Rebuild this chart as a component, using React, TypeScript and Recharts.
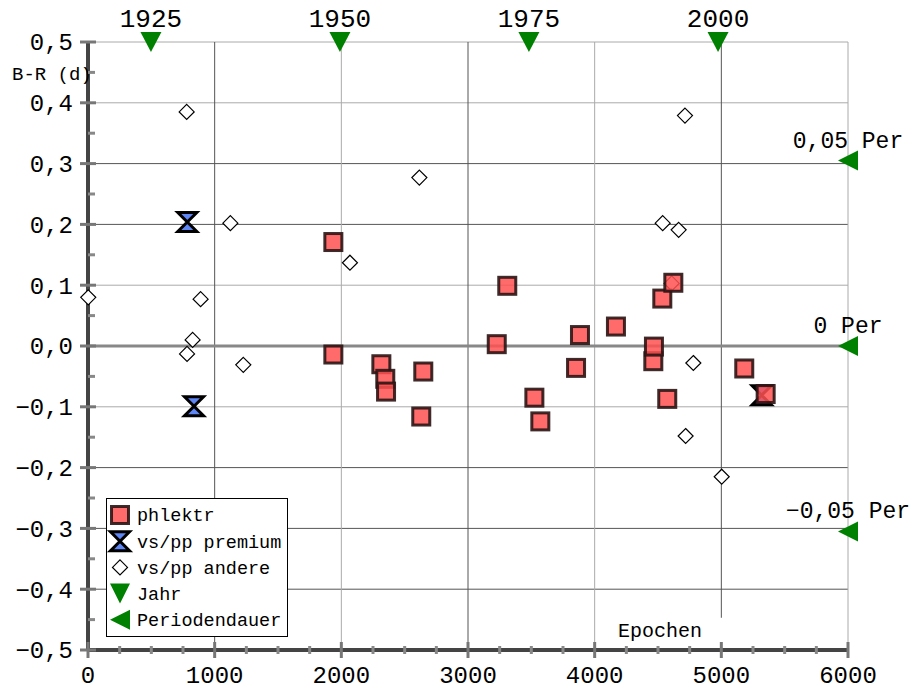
import React from 'react';
import { ScatterChart, Scatter, XAxis, YAxis, ReferenceLine, Legend, Label } from 'recharts';

const FONT = '"Liberation Mono", "Courier New", monospace';

// phlektr observations (epoch, B-R in days)
const phlektrEpoch = [1937, 1937, 2316, 2347, 2353, 2647, 2631, 3227, 3310, 3524, 3571, 3853, 3884, 4168, 4463, 4468, 4534, 4621, 4573, 5181, 5350];
const phlektrBR = [0.171, -0.014, -0.030, -0.054, -0.075, -0.042, -0.116, 0.003, 0.099, -0.085, -0.124, -0.036, 0.018, 0.032, -0.025, -0.001, 0.078, 0.104, -0.087, -0.037, -0.079];

// vs/pp premium
const premiumEpoch = [784, 837, 5319];
const premiumBR = [0.204, -0.099, -0.081];

// vs/pp andere
const andereEpoch = [2, 779, 826, 782, 889, 1124, 1226, 2068, 2616, 4537, 4608, 4663, 4713, 4718, 4779, 5003];
const andereBR = [0.080, 0.385, 0.010, -0.013, 0.077, 0.202, -0.031, 0.137, 0.277, 0.202, 0.103, 0.191, 0.379, -0.148, -0.028, -0.215];

// Jahr markers along the top
const yearEpoch = [497, 1989, 3481, 4974];
const yearLabels = ['1925', '1950', '1975', '2000'];

// Periodendauer markers along the right
const periodBR = [0.305, 0, -0.305];
const periodLabels = ['0,05 Per', '0 Per', '\u22120,05 Per'];

const xMajorTicks = [0, 1000, 2000, 3000, 4000, 5000, 6000];
const yMajorTicks = [-0.5, -0.4, -0.3, -0.2, -0.1, 0, 0.1, 0.2, 0.3, 0.4, 0.5];

const darkX = [1000, 3000, 5000];
const lightX = [2000, 4000, 6000];
const darkY = [0.3, 0.2, -0.2, -0.3, -0.4];
const lightY = [0.5, 0.4, 0.1, -0.1];

const xTicks = xMajorTicks.flatMap((t, i) => (i === 0 ? [t] : [t - 750, t - 500, t - 250, t]));
const yTicks = yMajorTicks.flatMap((t, i) => (i === 0 ? [t] : [+(t - 0.05).toFixed(2), t]));

const zip = (xs: number[], ys: number[]) => xs.map((x, i) => ({ x, y: ys[i] }));
const phlektrData = zip(phlektrEpoch, phlektrBR);
const premiumData = zip(premiumEpoch, premiumBR);
const andereData = zip(andereEpoch, andereBR);
const yearData = yearEpoch.map((x, i) => ({ x, y: 0.5, label: yearLabels[i] }));
const periodData = periodBR.map((y, i) => ({ x: 6000, y, label: periodLabels[i] }));

const fmt = (v: number) => {
  const s = Math.abs(v).toFixed(1).replace('.', ',');
  return v < -1e-9 ? '\u2212' + s : s;
};

const isMajor = (v: number, step: number) => Math.abs(v / step - Math.round(v / step)) < 1e-6;

const SquareShape = (p: any) => (
  <rect x={p.cx - 8.5} y={p.cy - 8.5} width={17} height={17} fill="#ff5050" fillOpacity={0.85}
    stroke="#2b1414" strokeOpacity={0.9} strokeWidth={3} />
);

const HourglassShape = (p: any) => (
  <path d={`M${p.cx - 9.5},${p.cy - 9.5}L${p.cx + 9.5},${p.cy - 9.5}L${p.cx - 9.5},${p.cy + 9.5}L${p.cx + 9.5},${p.cy + 9.5}Z`}
    fill="#5f86f5" stroke="#000" strokeWidth={3} strokeLinejoin="miter" />
);

const DiamondShape = (p: any) => (
  <path d={`M${p.cx},${p.cy - 7.5}L${p.cx + 7.5},${p.cy}L${p.cx},${p.cy + 7.5}L${p.cx - 7.5},${p.cy}Z`}
    fill="#fff" stroke="#000" strokeWidth={1.2} />
);

const YearShape = (p: any) => (
  <g>
    <path d={`M${p.cx - 10.5},${p.cy - 10}L${p.cx + 10.5},${p.cy - 10}L${p.cx},${p.cy + 10}Z`} fill="#008000" />
    <text x={p.cx} y={p.cy - 15} textAnchor="middle" fontFamily={FONT} fontSize={26} fill="#000">{p.payload.label}</text>
  </g>
);

const PeriodShape = (p: any) => (
  <g>
    <path d={`M${p.cx + 10},${p.cy - 10}L${p.cx + 10},${p.cy + 10}L${p.cx - 10},${p.cy}Z`} fill="#008000" />
    <text x={p.cx} y={p.cy - 13} textAnchor="middle" fontFamily={FONT} fontSize={23} fill="#000">{p.payload.label}</text>
  </g>
);

const YTick = ({ x, y, payload }: any) => {
  const v = payload.value;
  if (!isMajor(v, 0.1)) {
    return <line x1={x} x2={x + 7} y1={y} y2={y} stroke="#888" strokeWidth={3} />;
  }
  return (
    <g>
      <line x1={x - 8} x2={x + 8} y1={y} y2={y} stroke="#777" strokeWidth={3} />
      <text x={x - 15} y={y} dy="0.35em" textAnchor="end" fontFamily={FONT} fontSize={24} fill="#000">{fmt(v)}</text>
    </g>
  );
};

const XTick = ({ x, y, payload }: any) => {
  const v = payload.value;
  if (!isMajor(v, 1000)) {
    return <line x1={x} x2={x} y1={y - 4} y2={y + 4} stroke="#888" strokeWidth={3} />;
  }
  return (
    <g>
      <line x1={x} x2={x} y1={y - 8} y2={y + 8} stroke="#777" strokeWidth={3} />
      <text x={x} y={y + 33} textAnchor="middle" fontFamily={FONT} fontSize={24} fill="#000">{String(v)}</text>
    </g>
  );
};

const legendItems = ['phlektr', 'vs/pp premium', 'vs/pp andere', 'Jahr', 'Periodendauer'];
const legendShapes = [SquareShape, HourglassShape, DiamondShape];

const renderLegend = () => (
  <svg width={182} height={139} style={{ display: 'block' }}>
    <rect x={0.5} y={0.5} width={181} height={138} fill="#fff" stroke="#000" strokeWidth={1} />
    {legendItems.map((name, i) => {
      const cy = 17 + i * 26.2;
      const Shape = legendShapes[i];
      return (
        <g key={name}>
          {Shape ? <Shape cx={14} cy={cy} /> : null}
          {i === 3 ? <path d={`M4,${cy - 10}L24,${cy - 10}L14,${cy + 10}Z`} fill="#008000" /> : null}
          {i === 4 ? <path d={`M24,${cy - 10}L24,${cy + 10}L4,${cy}Z`} fill="#008000" /> : null}
          <text x={31} y={cy} dy="0.35em" fontFamily={FONT} fontSize={18.5} fill="#000">{name}</text>
        </g>
      );
    })}
  </svg>
);

export default function App() {
  return (
    <div style={{ position: 'absolute', left: 0, top: 0, background: '#fff' }}>
      <ScatterChart width={917} height={689} margin={{ top: 42, right: 69, bottom: 9, left: 8 }}>
        {lightY.map((v) => (
          <ReferenceLine key={'ly' + v} y={v} stroke="#aaa" strokeWidth={1} />
        ))}
        {darkY.map((v) => (
          <ReferenceLine key={'dy' + v} y={v} stroke="#555" strokeWidth={1} />
        ))}
        {lightX.map((v) => (
          <ReferenceLine key={'lx' + v} x={v} stroke="#aaa" strokeWidth={1} />
        ))}
        {darkX.filter((v) => v !== 5000).map((v) => (
          <ReferenceLine key={'dx' + v} x={v} stroke="#555" strokeWidth={1} />
        ))}
        <ReferenceLine segment={[{ x: 5000, y: -0.447 }, { x: 5000, y: 0.5 }]} stroke="#555" strokeWidth={1} />
        <ReferenceLine y={0} stroke="#888" strokeWidth={3} />
        <XAxis type="number" dataKey="x" domain={[0, 6000]} ticks={xTicks} interval={0}
          tickSize={0} tickMargin={0} height={30} tick={<XTick />}
          axisLine={{ stroke: '#444', strokeWidth: 4 }} tickLine={false}>
          <Label content={() => (
            <text x={618} y={637} fontFamily={FONT} fontSize={20} fill="#000">Epochen</text>
          )} />
        </XAxis>
        <YAxis type="number" dataKey="y" domain={[-0.5, 0.5]} ticks={yTicks} interval={0}
          tickSize={0} tickMargin={0} width={80} tick={<YTick />}
          axisLine={{ stroke: '#444', strokeWidth: 4 }} tickLine={false}>
          <Label content={() => (
            <text x={12} y={80} fontFamily={FONT} fontSize={19} fill="#000">B-R (d)</text>
          )} />
        </YAxis>
        <Legend layout="vertical" align="center" verticalAlign="middle" content={renderLegend}
          wrapperStyle={{ left: 106, top: 498, width: 182, height: 139 }} />
        <Scatter name="vs/pp andere" data={andereData} shape={DiamondShape} isAnimationActive={false} />
        <Scatter name="vs/pp premium" data={premiumData} shape={HourglassShape} isAnimationActive={false} />
        <Scatter name="phlektr" data={phlektrData} shape={SquareShape} isAnimationActive={false} />
        <Scatter name="Jahr" data={yearData} shape={YearShape} isAnimationActive={false} />
        <Scatter name="Periodendauer" data={periodData} shape={PeriodShape} isAnimationActive={false} />
      </ScatterChart>
    </div>
  );
}
